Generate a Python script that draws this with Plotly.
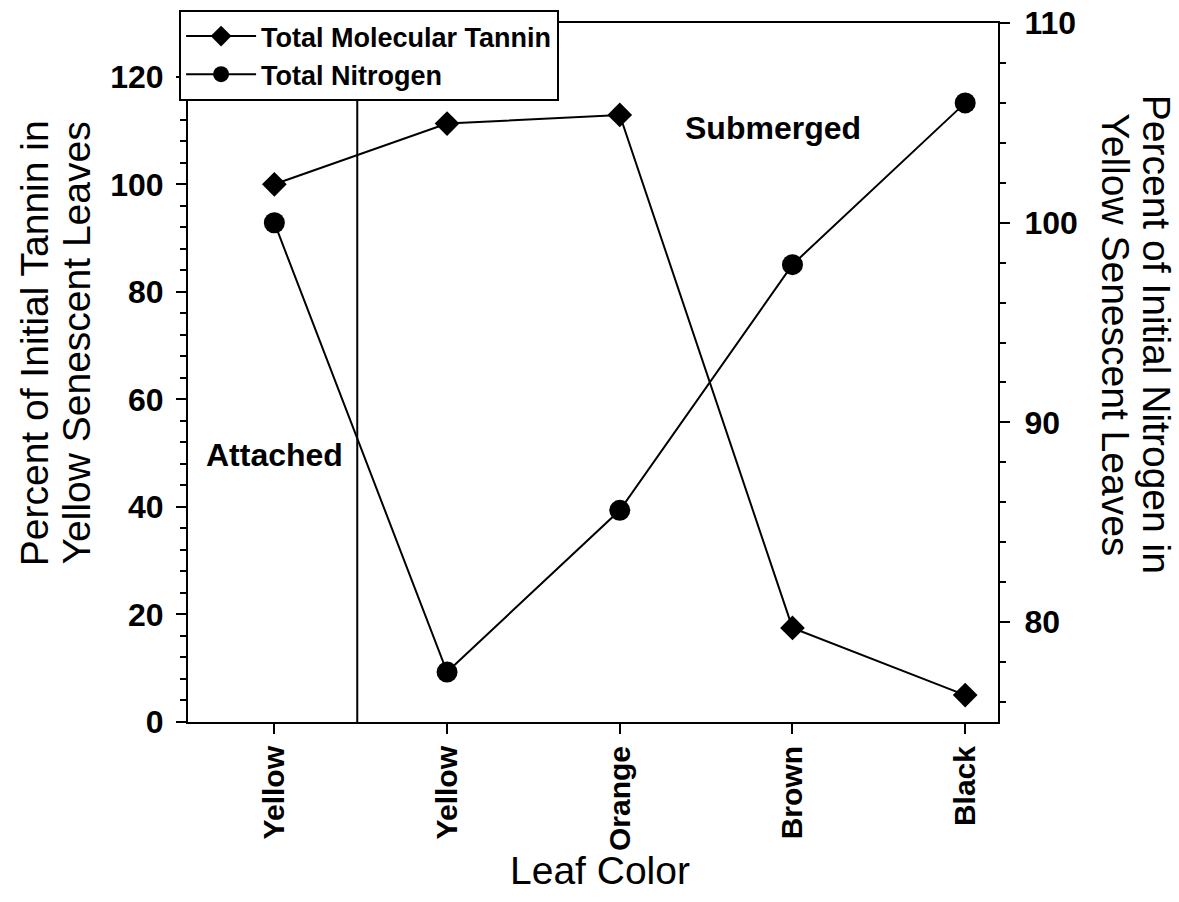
import plotly.graph_objects as go

# ---- data ----
categories = ["Yellow", "Yellow", "Orange", "Brown", "Black"]
tannin = [100.0, 111.3, 112.9, 17.5, 5.0]
nitrogen = [100.0, 77.5, 85.6, 97.9, 106.0]
series_names = ["Total Molecular Tannin", "Total Nitrogen"]
left_ticks = [0, 20, 40, 60, 80, 100, 120]
right_ticks = [80, 90, 100, 110]

xpos = list(range(len(categories)))
FONT = "Liberation Sans, Arial, sans-serif"

fig = go.Figure()
fig.add_trace(go.Scatter(
    x=xpos, y=tannin, name=series_names[0], mode="lines+markers",
    line=dict(color="black", width=2),
    marker=dict(symbol="diamond", size=19, color="black"),
    yaxis="y",
))
fig.add_trace(go.Scatter(
    x=xpos, y=nitrogen, name=series_names[1], mode="lines+markers",
    line=dict(color="black", width=2),
    marker=dict(symbol="circle", size=21, color="black"),
    yaxis="y2",
))

tickfont = dict(family=FONT, size=32, color="black", weight="bold")
xtickfont = dict(family=FONT, size=30, color="black", weight="bold")

fig.update_layout(
    width=1179, height=902,
    margin=dict(l=188, r=181, t=23, b=180, autoexpand=False),
    paper_bgcolor="white", plot_bgcolor="white",
    showlegend=True,
    legend=dict(
        x=-0.011, y=1.0186, xanchor="left", yanchor="top",
        bgcolor="white", bordercolor="black", borderwidth=2,
        font=dict(family=FONT, size=27, color="black", weight="bold"),
        itemwidth=70, tracegroupgap=0,
    ),
    xaxis=dict(
        range=[-0.5, 4.19], tickmode="array", tickvals=xpos, ticktext=categories,
        tickangle=-90, tickfont=xtickfont, showgrid=False, zeroline=False,
        showline=True, linecolor="black", linewidth=2, mirror=True,
        ticks="outside", ticklen=10, tickwidth=2, tickcolor="black",
    ),
    yaxis=dict(
        range=[0, 130], tickmode="array", tickvals=left_ticks,
        tickfont=tickfont, showgrid=False, zeroline=False,
        showline=True, linecolor="black", linewidth=2,
        ticks="outside", ticklen=10, tickwidth=2, tickcolor="black",
        ticklabelstandoff=6,
        minor=dict(dtick=4, tick0=0, ticks="outside", ticklen=6, tickwidth=2, tickcolor="black"),
    ),
    yaxis2=dict(
        range=[75, 110], overlaying="y", side="right", tickmode="array", tickvals=right_ticks,
        tickfont=tickfont, showgrid=False, zeroline=False,
        showline=True, linecolor="black", linewidth=2,
        ticks="outside", ticklen=10, tickwidth=2, tickcolor="black",
        ticklabelstandoff=8,
        minor=dict(dtick=2, tick0=76, ticks="outside", ticklen=6, tickwidth=2, tickcolor="black"),
    ),
)

# divider between attached and submerged
fig.add_shape(type="line", xref="x", yref="paper", x0=0.48, x1=0.48, y0=0, y1=1,
              line=dict(color="black", width=2))

ann_font_bold = dict(family=FONT, size=32, color="black", weight="bold")
title_font = dict(family=FONT, size=39, color="black")

fig.add_annotation(text="Attached", x=0, y=49.7, xref="x", yref="y",
                   showarrow=False, font=ann_font_bold, xanchor="center", yanchor="middle")
fig.add_annotation(text="Submerged", x=2.886, y=110.5, xref="x", yref="y",
                   showarrow=False, font=ann_font_bold, xanchor="center", yanchor="middle")

# axis titles
fig.add_annotation(text="Leaf Color", x=0.509, y=-0.213, xref="paper", yref="paper",
                   showarrow=False, font=title_font, xanchor="center", yanchor="middle")
fig.add_annotation(text="Percent of Initial Tannin in", x=-0.19, y=0.542, xref="paper", yref="paper",
                   showarrow=False, font=title_font, textangle=-90, xanchor="center", yanchor="middle")
fig.add_annotation(text="Yellow Senescent Leaves", x=-0.138, y=0.542, xref="paper", yref="paper",
                   showarrow=False, font=title_font, textangle=-90, xanchor="center", yanchor="middle")
fig.add_annotation(text="Percent of Initial Nitrogen in", x=1.195, y=0.554, xref="paper", yref="paper",
                   showarrow=False, font=title_font, textangle=90, xanchor="center", yanchor="middle")
fig.add_annotation(text="Yellow Senescent Leaves", x=1.145, y=0.554, xref="paper", yref="paper",
                   showarrow=False, font=title_font, textangle=90, xanchor="center", yanchor="middle")

fig.write_html("out.html")
